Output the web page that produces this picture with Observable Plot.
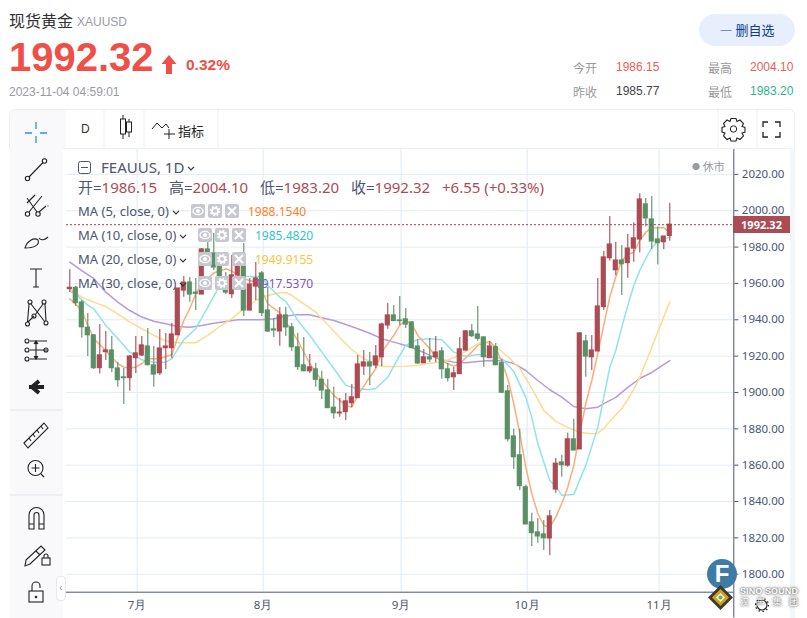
<!DOCTYPE html>
<html lang="zh"><head><meta charset="utf-8">
<script src="https://cdn.jsdelivr.net/npm/d3@7"></script>
<script src="https://cdn.jsdelivr.net/npm/@observablehq/plot@0.6"></script>
<style>
html,body{margin:0;padding:0;background:#fff;width:807px;height:618px;overflow:hidden;font-family:"Liberation Sans",Arial,sans-serif}
#page{position:relative;width:807px;height:618px;overflow:hidden}
#header{position:relative;height:148px}
.abs{position:absolute;white-space:nowrap}
#chart svg{display:block;overflow:visible}
.leg{font:13px "Noto Sans",sans-serif;color:#4c5570}
.ic{position:absolute;width:14px;height:14px;background:#c6c8d0;border-radius:2px}
.ic svg{display:block}
.chev{display:inline-block;vertical-align:middle;margin-left:3px}
</style></head><body>
<div id="page">
<div id="header">
  <div class="abs" style="left:9px;top:8px;font:16px 'Noto Sans CJK SC';color:#333">现货黄金</div>
  <div class="abs" style="left:77px;top:15px;font:12px 'Liberation Sans';color:#9a9aa4">XAUUSD</div>
  <div class="abs" style="left:9px;top:35px;font:bold 40px 'Liberation Sans';color:#ee5048" id="bigPrice">1992.32</div>
  <svg class="abs" style="left:161px;top:55px" width="16" height="19"><path d="M8 0L15.5 9H11V19H5V9H.5Z" fill="#ee5048"/></svg>
  <div class="abs" style="left:186px;top:56px;font:bold 15.5px 'Liberation Sans';color:#ee5048">0.32%</div>
  <div class="abs" style="left:9px;top:85px;font:12px 'Liberation Sans';color:#9a9aa4">2023-11-04 04:59:01</div>
  <div class="abs" style="left:699px;top:14px;width:96px;height:32px;border-radius:16px;background:#e8effc;color:#0b3f8f;font:13px/32px 'Noto Sans CJK SC';text-align:center">— 删自选</div>
  <div class="abs" style="left:573px;top:59px;font:12px 'Noto Sans CJK SC';color:#999">今开</div>
  <div class="abs" style="left:616px;top:60px;font:12px 'Liberation Sans';color:#ee5d4f">1986.15</div>
  <div class="abs" style="left:708px;top:59px;font:12px 'Noto Sans CJK SC';color:#999">最高</div>
  <div class="abs" style="left:750px;top:60px;font:12px 'Liberation Sans';color:#ee5d4f">2004.10</div>
  <div class="abs" style="left:573px;top:83px;font:12px 'Noto Sans CJK SC';color:#999">昨收</div>
  <div class="abs" style="left:616px;top:84px;font:12px 'Liberation Sans';color:#444">1985.77</div>
  <div class="abs" style="left:708px;top:83px;font:12px 'Noto Sans CJK SC';color:#999">最低</div>
  <div class="abs" style="left:750px;top:84px;font:12px 'Liberation Sans';color:#2bb58f">1983.20</div>
  <!-- top toolbar -->
  <div class="abs" style="left:9px;top:109px;width:786px;height:40px;border:1px solid #eeeef1;border-bottom:1px solid #eeeff3;border-radius:6px 6px 0 0;box-sizing:border-box"></div>
  <div class="abs" style="left:10px;top:110px;width:56px;height:38px;background:#f9f9fb;border-radius:6px 0 0 0"></div>
  <div class="abs" style="left:81px;top:122px;font:12px 'Liberation Sans';color:#333">D</div>
  <div class="abs" style="left:178px;top:121px;font:13px 'Noto Sans CJK SC';color:#222">指标</div>
  <svg class="abs" style="left:66px;top:110px" width="729" height="38" fill="none" stroke="#f0f0f3">
    <path d="M38 0V38M78 0V38M152 0V38M652 0V38M691 0V38"/>
    <g stroke="#222"><path d="M57 5V29M63 9V27"/><rect x="54.5" y="9" width="5" height="15" fill="#fff"/><rect x="60.5" y="12" width="5" height="10" fill="#fff"/>
    <path d="M86 19L91 13L96 18L100 14L103 18M103 19V29M98 24H109"/>
    <circle cx="667.5" cy="19" r="3.2"/><path d="M665 8.5H670L671 11.5L674 10L677.5 13.5L676 16.5L679 17.5V22L676 23L677.5 26L674 29.5L671 28L670 31H665L664 28L661 29.5L657.5 26L659 23L656 22V17.5L659 16.5L657.5 13.5L661 10L664 11.5Z" stroke-width="1.1"/>
    <path d="M697 17V12H702M709 12H714V17M697 22V27H702M709 27H714V22" stroke-width="1.3"/></g>
  </svg>
</div>
<div id="chart"></div>
<!-- left drawing toolbar -->
<div class="abs" style="left:10px;top:148px;width:53px;height:470px;background:#f9f9fb"></div>
<svg class="abs" style="left:10px;top:110px" width="56" height="508" fill="none" stroke="#222" stroke-width="1.1">
  <path d="M26 13V20M26 27V34M15 24H22M30 24H37" stroke="#2196f3" stroke-width="1.3" transform="translate(0,-1)"/>
  <circle cx="17.5" cy="68.5" r="2.2"/><circle cx="34.5" cy="51" r="2.2"/><path d="M19 67L33 52.5"/>
  <circle cx="17.5" cy="104" r="2.2"/><circle cx="28" cy="104" r="2.2"/><circle cx="38" cy="96" r=".1"/><path d="M19 102L32 86M17 88L27 102M29 102L36 96M17 93L25 85"/>
  <path transform="translate(0,7)" d="M15 131C17 124 24 120 28 123C30 128 24 131 15 131ZM29 121C31 124 35 123 38 120"/>
  <path d="M20 159H32M26 159V177M23 177H29"/>
  <g transform="translate(0,7)"><circle cx="17.5" cy="207" r="2"/><circle cx="20" cy="185" r="2"/><circle cx="34" cy="185" r="2"/><circle cx="24" cy="199" r="2"/><circle cx="36" cy="206" r="2"/>
  <path d="M18 205L24 199M19 187L17.5 205M21 187L35 205M33 187L25 198M35 187L36 204"/></g>
  <path d="M20 231H37M20 240H37M20 249H37"/><circle cx="17" cy="231" r="2"/><circle cx="17" cy="240" r="2"/><circle cx="17" cy="249" r="2"/><circle cx="36" cy="240" r="2"/><path d="M26 232V248M24 234L26 231L28 234M24 246L26 249L28 246" fill="#222"/>
  <path d="M19 277H34M29 271L22 277L29 283" stroke-width="4"/>
  <path d="M0 300H52" stroke="#e2e2ec"/>
  <path d="M14 333L34 313L38 318L18 338ZM19 328L21 331M23 324L25 327M27 320L29 323M31 316L33 319"/>
  <circle cx="25.5" cy="358" r="7.5"/><path d="M25.5 354V362M21.5 358H29.5M31 364L34 367"/>
  <path d="M0 385H52" stroke="#e2e2ec"/>
  <path d="M19 419V405A7.5 7.5 0 0 1 34 405V419H29V405A2.5 2.5 0 0 0 24 405V419ZM19 414H24M29 414H34"/>
  <path d="M16 450L31 436L35 440L20 454L15 456ZM26 441L30 445"/><rect x="32" y="448" width="8" height="7"/><path d="M34 448V446A2 2 0 0 1 38 446V448"/>
  <rect x="19" y="481" width="14" height="11"/><path d="M22 481V476A4 4 0 0 1 30 476V478"/><circle cx="26" cy="487" r=".8"/>
</svg>
<div class="abs" style="left:56px;top:576px;width:8px;height:23px;border:1px solid #e6e6ec;border-radius:4px;background:#fff;font:10px/22px 'Liberation Sans';color:#99a;text-align:center">‹</div>
<!-- legend -->
<svg class="abs" style="left:78px;top:161px" width="13" height="13" fill="none" stroke="#4c5570"><rect x=".5" y=".5" width="12" height="12" rx="2"/><path d="M3 6.5H10"/></svg>
<div class="abs" id="symbol" style="left:101px;top:157px;font:15px 'Noto Sans';color:#4c5570">FEAUUS, 1D</div>
<div class="abs" id="ohlc" style="left:78px;top:176px;font:15px 'Noto Sans','Noto Sans CJK SC';color:#4c5570"></div>
<div id="maLeg"></div>
<div class="abs" style="left:692px;top:158px;font:11px 'Noto Sans','Noto Sans CJK SC';color:#9a9aa4"><span style="font-size:8px;vertical-align:1px">●</span> 休市</div>
<div class="abs" id="tag" style="left:733px;width:57px;height:17px;background:#ab4c55;color:#fff;font:bold 11px/17px 'Noto Sans';text-align:center"></div>
<div class="abs" style="left:790px;top:148px;width:5px;height:470px;background:#f4f7fa"></div>
<!-- watermark -->
<div class="abs" style="left:707px;top:559px;width:30px;height:30px;border-radius:50%;background:#3f7ba6;color:#fff;font:bold 24px/30px 'Liberation Sans';text-align:center">F</div>
<svg class="abs" style="left:707px;top:584px" width="27" height="27"><path d="M13.5 1L26 13.5L13.5 26L1 13.5Z" fill="#3d3a2a"/><path d="M13.5 5L22 13.5L13.5 22L5 13.5Z" fill="#c9a227"/><path d="M13.5 9L18 13.5L13.5 18L9 13.5Z" fill="#eef2e0"/><circle cx="13.5" cy="13.5" r="2" fill="#7aa83f"/></svg>
<svg class="abs" style="left:754px;top:597px" width="16" height="16" fill="none" stroke="#222"><circle cx="8" cy="8" r="5" stroke-width="1.2"/><circle cx="8" cy="8" r="6.5" stroke-dasharray="1.5 2.5" stroke-width="1.2"/></svg>
<div class="abs" style="left:740px;top:587px;font:bold 9px/9px 'Liberation Sans';color:#fff;text-shadow:0 0 2px #666,0 0 3px #666;letter-spacing:.1px">SINO SOUND</div>
<div class="abs" style="left:740px;top:597px;width:58px;height:9px;display:flex;justify-content:space-between;font:9px/9px 'Noto Sans CJK SC';color:#fff;text-shadow:0 0 2px #666,0 0 3px #666"><span>汉</span><span>声</span><span>集</span><span>团</span></div>
</div>
<script>
const opens=[1956.9,1957.6,1949.5,1935.6,1931.4,1913.4,1922.2,1923.1,1913.2,1908.3,1907.9,1918.9,1920.4,1925.3,1914.9,1910.6,1924.4,1924.4,1931.5,1956.1,1960.5,1954.9,1953.9,1978.7,1976.5,1969.3,1963.3,1954.1,1964.4,1969.3,1945.1,1958.3,1965.5,1945.1,1934.7,1933.6,1942.4,1935.8,1924.8,1914.9,1911.7,1912.7,1907.0,1901.1,1891.6,1888.5,1889.2,1894.1,1896.9,1914.3,1916.5,1914.9,1919.4,1936.9,1942.4,1939.6,1940.2,1938.5,1925.3,1916.1,1919.3,1919.4,1922.6,1912.7,1908.4,1910.1,1923.1,1933.6,1931.9,1930.3,1918.9,1924.9,1916.1,1900.6,1875.8,1865.4,1847.8,1828.5,1823.0,1821.9,1819.7,1846.6,1861.5,1859.8,1874.2,1868.7,1928.1,1919.4,1922.6,1947.0,1973.9,1967.3,1972.6,1971.2,1979.2,1984.2,2003.5,1995.2,1984.2,1982.7,1986.15];
const highs=[1967.5,1958.3,1950.6,1943.5,1931.9,1937.4,1933.6,1930.8,1916.7,1913.2,1920.4,1930.8,1930.8,1935.2,1925.3,1934.7,1932.5,1938.0,1957.2,1963.8,1963.3,1962.7,1979.2,1982.5,1987.5,1975.4,1966.0,1975.4,1975.4,1982.0,1962.7,1971.5,1966.6,1957.8,1940.7,1946.8,1946.9,1938.0,1932.6,1930.3,1920.9,1916.0,1911.7,1907.2,1902.9,1896.7,1899.5,1904.4,1920.4,1923.1,1922.0,1925.9,1938.1,1949.0,1947.9,1952.8,1946.2,1939.1,1929.2,1923.7,1929.7,1930.8,1924.8,1916.0,1913.8,1930.3,1934.1,1937.4,1947.3,1930.4,1928.1,1927.0,1918.2,1903.9,1879.7,1879.7,1848.9,1833.6,1830.7,1829.6,1835.1,1863.7,1865.4,1877.6,1885.2,1933.0,1931.5,1931.4,1962.7,1977.6,1996.9,1982.5,1980.9,1986.9,1993.4,2009.3,2006.8,2007.9,1991.0,1985.8,2004.10];
const lows=[1955.0,1947.3,1929.9,1919.8,1912.7,1910.1,1917.6,1911.0,1902.9,1893.4,1900.7,1910.5,1919.8,1914.9,1902.9,1909.4,1912.7,1918.7,1931.4,1952.4,1949.7,1945.1,1953.9,1972.6,1967.1,1962.7,1953.9,1951.7,1962.7,1941.8,1945.1,1950.6,1941.8,1933.0,1930.3,1925.5,1930.8,1922.7,1912.1,1911.6,1910.5,1902.9,1896.2,1891.2,1885.2,1886.3,1884.6,1891.7,1896.7,1909.4,1903.9,1913.2,1914.3,1934.8,1939.1,1936.9,1935.2,1924.2,1915.4,1915.9,1916.5,1916.5,1907.3,1905.7,1901.1,1909.9,1922.7,1930.3,1928.2,1913.9,1918.7,1914.9,1899.3,1872.7,1857.6,1846.1,1827.4,1815.3,1817.1,1813.1,1810.3,1844.6,1853.4,1858.9,1868.1,1868.7,1908.4,1912.1,1922.6,1945.1,1972.3,1964.4,1953.4,1962.9,1971.7,1976.7,1991.0,1978.7,1970.1,1978.7,1983.20];
const closes=[1957.6,1949.2,1935.9,1931.5,1913.4,1920.4,1923.1,1913.4,1906.8,1907.9,1919.8,1921.5,1925.9,1915.0,1909.9,1924.2,1925.3,1931.9,1957.2,1960.5,1953.9,1954.3,1978.7,1973.7,1968.8,1963.8,1955.0,1964.4,1969.9,1945.1,1959.4,1962.7,1943.7,1933.6,1934.1,1942.4,1935.8,1924.9,1914.0,1911.7,1913.8,1907.0,1901.1,1891.4,1888.6,1888.9,1895.1,1897.3,1915.4,1916.5,1914.3,1919.8,1937.4,1942.4,1939.3,1939.3,1937.4,1924.4,1916.0,1919.3,1918.2,1922.0,1912.8,1907.9,1910.5,1923.7,1933.6,1931.0,1929.6,1919.4,1925.3,1915.0,1899.9,1874.3,1864.4,1848.5,1827.4,1822.6,1820.8,1819.8,1831.8,1860.8,1860.0,1874.2,1868.1,1932.5,1919.8,1923.1,1947.3,1974.3,1981.4,1972.6,1970.6,1979.2,1984.8,2006.2,1995.8,1983.1,1982.2,1985.8,1992.32];

const ma5Days=[0,2,3,4,6,7,8,9,10,11,12,13,15,17,18,19,20,21,22,24,26,27,29,31,32,33,35,36,38,40,42,44,46,47,48,50,51,52,54,55,56,57,58,60,61,63,64,65,67,68,70,71,72,73,74,75,76,77,78,79,80,81,82,83,84,85,86,87,88,89,90,91,92,93,94,95,96,97,99,100];
const ma5Vals=[1951.6,1945.1,1936.9,1929.6,1923.1,1919.4,1915.8,1913.9,1913.6,1913.9,1915.8,1918.6,1918.6,1920.9,1930.4,1939.6,1946.1,1954.3,1959.8,1965.7,1968.1,1966.8,1962.6,1960.7,1956.1,1948.8,1943.8,1939.1,1928.6,1915.8,1906.6,1898.4,1892.9,1891.9,1898.4,1908.4,1913.1,1922.2,1931.4,1936.9,1939.6,1937.8,1931.4,1924.1,1919.4,1915.8,1914.5,1915.8,1922.2,1925.9,1928.1,1924.9,1916.5,1907.7,1893.9,1877.5,1858.9,1844.4,1833.4,1826.8,1825.9,1831.4,1838.9,1847.9,1859.9,1877.5,1893.9,1906.6,1921.5,1936.9,1952.5,1963.5,1972.6,1975.9,1977.2,1983.6,1988.2,1990.6,1990.6,1988.15];
const ma10Days=[0,1,3,4,6,8,10,12,14,16,17,19,21,23,25,26,27,29,31,32,33,35,36,38,40,42,44,46,48,50,51,53,55,56,58,60,62,64,66,68,70,72,74,76,77,78,80,81,82,84,86,88,90,91,92,93,94,95,96,97,98,100];
const ma10Vals=[1955.7,1954.3,1947.9,1946.1,1936.9,1929.7,1922.2,1918.0,1916.7,1916.7,1918.6,1929.0,1935.1,1947.0,1958.9,1962.6,1963.5,1963.8,1963.8,1963.5,1958.9,1952.5,1950.1,1939.6,1931.4,1922.2,1913.2,1903.9,1902.0,1901.5,1902.2,1908.4,1920.4,1925.9,1929.2,1929.6,1929.0,1922.2,1919.8,1920.9,1919.8,1918.7,1911.6,1897.3,1886.3,1871.9,1851.6,1848.3,1843.4,1843.9,1859.9,1880.8,1913.8,1923.1,1935.8,1947.9,1958.9,1967.1,1973.7,1979.8,1983.1,1985.48];
const ma20Days=[0,2,4,6,8,10,12,14,16,18,21,23,25,27,29,31,33,35,36,37,39,41,43,45,47,49,51,52,54,56,58,60,62,64,66,68,69,71,73,75,77,79,81,83,85,87,88,89,90,92,93,94,95,96,97,98,99,100];
const ma20Vals=[1957.1,1952.5,1949.7,1947.3,1943.3,1938.7,1935.1,1931.4,1928.3,1927.4,1927.4,1931.4,1936.3,1940.6,1946.1,1950.6,1953.4,1954.9,1955.0,1953.4,1948.8,1944.2,1937.3,1930.1,1923.5,1918.6,1915.8,1914.3,1914.3,1914.5,1915.0,1916.1,1916.7,1919.1,1922.7,1926.8,1928.1,1925.3,1919.8,1913.2,1902.2,1890.1,1884.1,1880.8,1878.0,1877.3,1877.6,1880.2,1884.1,1891.2,1896.2,1901.7,1908.3,1916.5,1924.8,1933.3,1941.6,1949.92];
const ma30Days=[0,2,4,6,8,10,12,14,16,18,20,22,24,26,28,30,32,34,36,38,40,42,44,46,48,50,52,54,56,58,60,62,64,66,68,70,72,74,76,78,80,82,84,86,88,89,91,93,95,97,100];
const ma30Vals=[1971.7,1967.1,1962.7,1955.2,1949.7,1945.1,1941.5,1939.2,1937.8,1936.3,1935.9,1936.9,1938.1,1939.1,1940.0,1940.0,1940.0,1940.6,1942.1,1942.8,1942.8,1941.1,1939.6,1937.4,1935.1,1932.6,1929.6,1927.7,1925.9,1923.5,1920.4,1918.0,1916.7,1916.4,1917.1,1917.6,1917.5,1916.0,1912.1,1906.6,1901.5,1897.4,1892.3,1891.0,1891.9,1893.9,1897.3,1902.8,1907.7,1911.0,1917.54];

const priceTicks=[1800,1820,1840,1860,1880,1900,1920,1940,1960,1980,2000,2020];
const monthDays=[11,32,55,76,98];
const monthNames=["7月","8月","9月","10月","11月"];
const lastClose=1992.32;
const maNames=["MA (5, close, 0)","MA (10, close, 0)","MA (20, close, 0)","MA (30, close, 0)"];
const maLast=["1988.1540","1985.4820","1949.9155","1917.5370"];
const maText=["#ff7f24","#2bc4d9","#fdc340","#7e57c2"];
const maLine=["#ffab78","#8fe3ee","#ffdb8e","#b69ade"];
const ohlcLabels=["开","高","低","收"];
const ohlcValues=["1986.15","2004.10","1983.20","1992.32"];
const changeText="+6.55 (+0.33%)";

const up="#ab4c55", down="#5b8f65";
const candles=closes.map((c,i)=>({i,o:opens[i],h:highs[i],l:lows[i],c}));
const colorOf=d=>d.c>=d.o?up:down;
const maSets=[[ma5Days,ma5Vals],[ma10Days,ma10Vals],[ma20Days,ma20Vals],[ma30Days,ma30Vals]];
const xMax=110.67, xMin=-0.55, yBottom=1790.1, yTop=2033.7, yBelow=1775.9;

const chart=Plot.plot({
  width:807,height:470,marginTop:1,marginBottom:26.3,marginLeft:66,marginRight:73.7,
  style:{background:"transparent",fontFamily:"'Noto Sans'",overflow:"visible"},
  x:{domain:[xMin,xMax],axis:null},
  y:{domain:[yBottom,yTop],axis:null},
  marks:[
    Plot.ruleY(priceTicks,{stroke:"#e2ecf3",strokeWidth:1}),
    Plot.ruleX(monthDays,{stroke:"#dfeaf2",strokeWidth:1,dx:1.3}),
    ...[3,2,1,0].map(k=>Plot.line(maSets[k][0],{x:d=>d,y:(d,j)=>maSets[k][1][j],stroke:maLine[k],strokeWidth:1.5})),
    Plot.ruleX(candles,{x:"i",y1:"l",y2:"h",stroke:colorOf,strokeWidth:1.1}),
    Plot.rect(candles,{x1:d=>d.i-0.43,x2:d=>d.i+0.43,y1:"o",y2:"c",fill:colorOf,insetTop:-0.6,insetBottom:-0.6}),
    Plot.ruleY([lastClose],{stroke:"#b0353f",strokeWidth:1,strokeDasharray:"2,2"}),
    Plot.ruleY([yBottom],{stroke:"#4a5675",strokeWidth:1}),
    Plot.ruleX([xMax],{y1:yBelow,y2:yTop,stroke:"#4a5675",strokeWidth:1}),
    Plot.axisY({anchor:"right",ticks:priceTicks,tickFormat:d=>d.toFixed(2),tickSize:4,tickPadding:4,fontSize:11.5,color:"#4a5675",label:null,x:xMax}),
    Plot.axisX({anchor:"bottom",ticks:monthDays,tickFormat:d=>monthNames[monthDays.indexOf(d)],tickSize:0,tickPadding:9,fontSize:11.5,color:"#4a5675",label:null,dx:1.3})
  ]
});
document.getElementById("chart").append(chart);

// price tag placed through the plot's own y scale
const tag=document.getElementById("tag");
tag.textContent=lastClose.toFixed(2);
tag.style.top=(148+chart.scale("y").apply(lastClose)-8.5)+"px";

const chev='<svg class="chev" width="8" height="5" fill="none" stroke="#333" stroke-width="1.2"><path d="M1 .8L4 3.8L7 .8"/></svg>';
document.getElementById("symbol").insertAdjacentHTML("beforeend",chev);

// OHLC line
document.getElementById("ohlc").innerHTML=ohlcLabels.map((n,i)=>`<span style="display:inline-block;width:91px">${n}=<span style="color:${up}">${ohlcValues[i]}</span></span>`).join("")+`<span style="color:${up}">${changeText}</span>`;

// MA legend rows
const eye='<svg width="14" height="14" fill="none" stroke="#fff" stroke-width="1.4"><ellipse cx="7" cy="7" rx="5" ry="3.6"/><circle cx="7" cy="7" r="1.3" fill="#fff"/></svg>';
const cog='<svg width="14" height="14" fill="none" stroke="#fff" stroke-width="1.8"><circle cx="7" cy="7" r="3"/><circle cx="7" cy="7" r="4.6" stroke-dasharray="1.8 1.8" stroke-width="1.4"/></svg>';
const xx='<svg width="14" height="14" fill="none" stroke="#fff" stroke-width="2"><path d="M3 3L11 11M11 3L3 11"/></svg>';
const rows=[211,235,259,283], iconX=[191,198,198,198];
document.getElementById("maLeg").innerHTML=rows.map((y,i)=>{
  const ix=iconX[i];
  return `<div class="abs leg" style="left:78px;top:${y-9}px">${maNames[i]}${chev}</div>`+
  [eye,cog,xx].map((s,j)=>`<div class="ic" style="left:${ix+j*17}px;top:${y-7}px">${s}</div>`).join("")+
  `<div class="abs" style="left:${ix+57}px;top:${y-8}px;font:12px 'Noto Sans';color:${maText[i]}">${maLast[i]}</div>`;
}).join("");
</script>
</body></html>
